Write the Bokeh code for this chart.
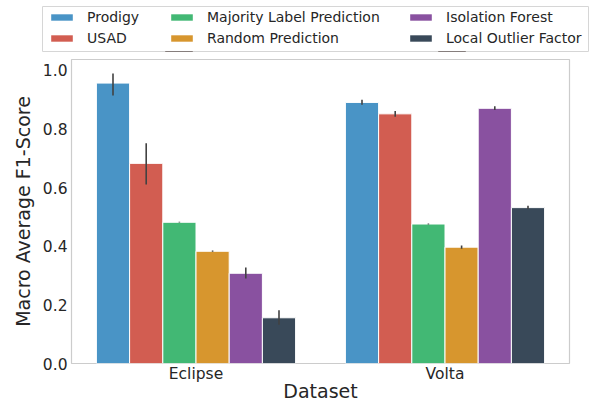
from bokeh.plotting import figure
from bokeh.layouts import column
from bokeh.models import (FactorRange, Range1d, ColumnDataSource, Legend, LegendItem,
                          FixedTicker, PrintfTickFormatter)
from bokeh.transform import dodge
from bokeh.embed import file_html
from bokeh.resources import INLINE

datasets = ["Eclipse", "Volta"]
methods = ["Prodigy", "USAD", "Majority Label Prediction", "Random Prediction",
           "Isolation Forest", "Local Outlier Factor"]
colors = ["#4994c6", "#d25d51", "#42b874", "#d7962e", "#8951a0", "#394959"]

# mean F1 per method for [Eclipse, Volta]
prodigy = [0.957, 0.891]
usad = [0.683, 0.852]
majority = [0.482, 0.476]
random_pred = [0.383, 0.397]
iso_forest = [0.308, 0.871]
lof = [0.156, 0.532]

# error bar bounds [Eclipse, Volta]
prodigy_lo, prodigy_hi = [0.915, 0.883], [0.990, 0.900]
usad_lo, usad_hi = [0.611, 0.842], [0.752, 0.862]
majority_lo, majority_hi = [0.481, 0.474], [0.484, 0.478]
random_lo, random_hi = [0.381, 0.392], [0.386, 0.403]
iso_lo, iso_hi = [0.290, 0.865], [0.328, 0.878]
lof_lo, lof_hi = [0.132, 0.527], [0.182, 0.538]

values = [prodigy, usad, majority, random_pred, iso_forest, lof]
lows = [prodigy_lo, usad_lo, majority_lo, random_lo, iso_lo, lof_lo]
highs = [prodigy_hi, usad_hi, majority_hi, random_hi, iso_hi, lof_hi]

yticks = [0.0, 0.2, 0.4, 0.6, 0.8, 1.0]

FONT = "DejaVu Sans"
TXT = "#262626"

sources = [ColumnDataSource(dict(dataset=datasets, val=v, lo=lo, hi=hi))
           for v, lo, hi in zip(values, lows, highs)]

# ---------------- main chart ----------------
p = figure(width=590, height=349, x_range=FactorRange(factors=datasets),
           y_range=Range1d(0, 1.0375), output_backend="svg", toolbar_location=None,
           min_border_left=71, min_border_right=21, min_border_top=4, min_border_bottom=41)
p.x_range.range_padding = 0
p.background_fill_color = "white"
p.border_fill_color = "white"
p.outline_line_color = "#cccccc"
p.outline_line_width = 1.2
p.grid.visible = False

n = len(methods)
group_w = 0.8
bar_w = group_w / n
for i, (src, c) in enumerate(zip(sources, colors)):
    off = -group_w / 2 + bar_w * (i + 0.5)
    p.vbar(x=dodge("dataset", off, range=p.x_range), top="val", width=bar_w,
           bottom=0, source=src, fill_color=c, line_color="white", line_width=1)
    p.segment(x0=dodge("dataset", off, range=p.x_range), y0="lo",
              x1=dodge("dataset", off, range=p.x_range), y1="hi",
              source=src, line_color="#424242", line_width=1.6)

for ax in (p.xaxis, p.yaxis):
    ax.axis_line_color = None
    ax.major_tick_line_color = None
    ax.minor_tick_line_color = None
    ax.major_tick_out = 0
    ax.major_tick_in = 0
    ax.minor_tick_out = 0
    ax.minor_tick_in = 0
    ax.major_label_text_font = FONT
    ax.major_label_text_font_size = "15.5px"
    ax.major_label_text_color = TXT
    ax.axis_label_text_font = FONT
    ax.axis_label_text_font_size = "19px"
    ax.axis_label_text_font_style = "normal"
    ax.axis_label_text_color = TXT

p.xaxis.axis_label = "Dataset"
p.xaxis.major_label_standoff = 1
p.xaxis.axis_label_standoff = -6
p.yaxis.axis_label = "Macro Average F1-Score"
p.yaxis.major_label_standoff = 4
p.yaxis.axis_label_standoff = 6
p.yaxis.ticker = FixedTicker(ticks=yticks)
p.yaxis.formatter = PrintfTickFormatter(format="%.1f")

# ---------------- legend strip ----------------
lg = figure(width=590, height=55, x_range=FactorRange(factors=datasets),
            y_range=Range1d(5, 6),
            output_backend="svg", toolbar_location=None,
            x_axis_type=None, y_axis_type=None,
            min_border_left=42, min_border_right=2, min_border_top=6, min_border_bottom=4)
try:
    lg.frame_align = False
    p.frame_align = False
except Exception:
    pass
lg.grid.visible = False
lg.outline_line_color = "#d6d6d6"
lg.outline_line_width = 1
lg.background_fill_color = "white"
lg.border_fill_color = "white"

keys = []
for src, c in zip(sources, colors):
    # same data; y-range of this strip keeps the bars out of view, only legend keys show
    r = lg.vbar(x="dataset", top="val", width=0.1, source=src, fill_color=c, line_color=None)
    keys.append(r)

col_x = [6, 126, 365]
for k in range(3):
    its = [LegendItem(label=methods[2 * k + j], renderers=[keys[2 * k + j]]) for j in range(2)]
    L = Legend(items=its, orientation="vertical", location=(col_x[k], 5),
               label_text_font=FONT, label_text_font_size="14px", label_text_color=TXT,
               glyph_width=27, glyph_height=8, label_standoff=12,
               spacing=5, padding=0, margin=0,
               border_line_color=None, background_fill_alpha=0)
    lg.add_layout(L, "center")

layout = column(lg, p, spacing=0)
open("out.html", "w").write(file_html(layout, INLINE))
